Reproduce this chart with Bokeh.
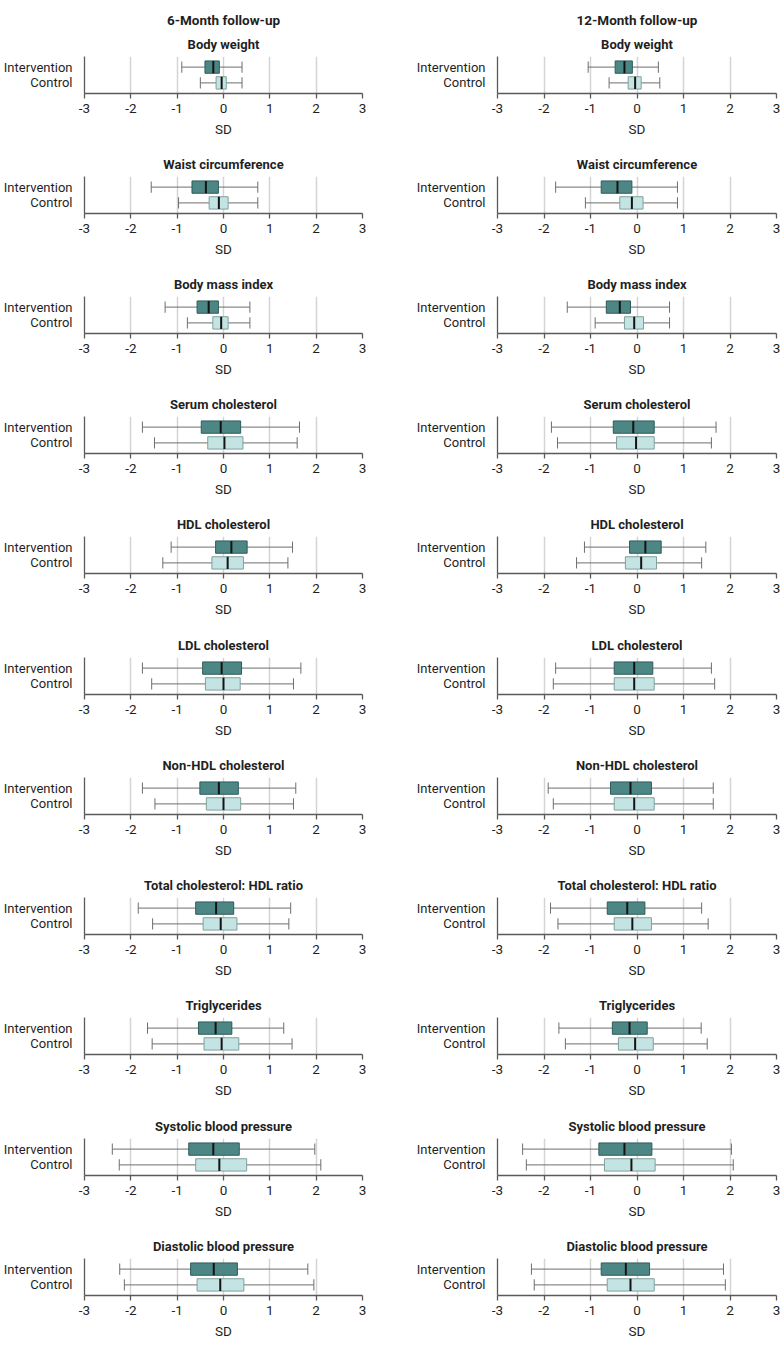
from bokeh.plotting import figure
from bokeh.models import Range1d, FactorRange, FixedTicker, Title, ColumnDataSource
from bokeh.layouts import row, column
from bokeh.embed import file_html
from bokeh.resources import INLINE

# ---------------- data ----------------
headers = ["6-Month follow-up", "12-Month follow-up"]
groups = ["Intervention", "Control"]
measures = ["Body weight", "Waist circumference", "Body mass index", "Serum cholesterol",
            "HDL cholesterol", "LDL cholesterol", "Non-HDL cholesterol",
            "Total cholesterol: HDL ratio", "Triglycerides", "Systolic blood pressure",
            "Diastolic blood pressure"]
tick_values = [-3, -2, -1, 0, 1, 2, 3]
tick_labels = ["-3", "-2", "-1", "0", "1", "2", "3"]

# 6-month, intervention
m6_int_low = [-0.90, -1.56, -1.26, -1.75, -1.13, -1.75, -1.75, -1.84, -1.64, -2.40, -2.24]
m6_int_q1 = [-0.40, -0.68, -0.57, -0.48, -0.17, -0.45, -0.51, -0.60, -0.54, -0.75, -0.71]
m6_int_med = [-0.22, -0.38, -0.32, -0.06, 0.17, -0.04, -0.10, -0.16, -0.17, -0.22, -0.21]
m6_int_q3 = [-0.09, -0.11, -0.11, 0.37, 0.51, 0.39, 0.32, 0.22, 0.18, 0.34, 0.30]
m6_int_high = [0.40, 0.74, 0.57, 1.64, 1.49, 1.67, 1.56, 1.45, 1.30, 1.97, 1.82]
# 6-month, control
m6_ctl_low = [-0.50, -0.97, -0.78, -1.49, -1.31, -1.55, -1.48, -1.53, -1.54, -2.25, -2.14]
m6_ctl_q1 = [-0.16, -0.31, -0.23, -0.34, -0.25, -0.39, -0.37, -0.44, -0.42, -0.60, -0.57]
m6_ctl_med = [-0.04, -0.10, -0.05, 0.02, 0.09, 0.00, 0.00, -0.06, -0.04, -0.09, -0.07]
m6_ctl_q3 = [0.06, 0.10, 0.10, 0.42, 0.43, 0.36, 0.37, 0.29, 0.33, 0.50, 0.44]
m6_ctl_high = [0.40, 0.74, 0.57, 1.59, 1.39, 1.51, 1.51, 1.41, 1.48, 2.10, 1.95]
# 12-month, intervention
m12_int_low = [-1.05, -1.75, -1.50, -1.84, -1.13, -1.75, -1.91, -1.86, -1.68, -2.46, -2.27]
m12_int_q1 = [-0.47, -0.77, -0.66, -0.51, -0.16, -0.49, -0.57, -0.64, -0.53, -0.82, -0.77]
m12_int_med = [-0.27, -0.42, -0.37, -0.08, 0.18, -0.06, -0.14, -0.21, -0.16, -0.27, -0.24]
m12_int_q3 = [-0.10, -0.11, -0.14, 0.37, 0.52, 0.34, 0.31, 0.17, 0.22, 0.32, 0.27]
m12_int_high = [0.46, 0.87, 0.70, 1.70, 1.48, 1.60, 1.64, 1.39, 1.38, 2.03, 1.86]
# 12-month, control
m12_ctl_low = [-0.60, -1.11, -0.90, -1.71, -1.30, -1.80, -1.80, -1.70, -1.54, -2.38, -2.21]
m12_ctl_q1 = [-0.19, -0.37, -0.27, -0.44, -0.25, -0.49, -0.49, -0.49, -0.40, -0.70, -0.64]
m12_ctl_med = [-0.04, -0.11, -0.06, -0.02, 0.09, -0.06, -0.06, -0.10, -0.04, -0.12, -0.14]
m12_ctl_q3 = [0.09, 0.13, 0.14, 0.37, 0.42, 0.37, 0.37, 0.31, 0.35, 0.39, 0.37]
m12_ctl_high = [0.49, 0.87, 0.70, 1.60, 1.39, 1.67, 1.64, 1.53, 1.51, 2.07, 1.90]

timepoints = [
    dict(low=(m6_int_low, m6_ctl_low), q1=(m6_int_q1, m6_ctl_q1), med=(m6_int_med, m6_ctl_med),
         q3=(m6_int_q3, m6_ctl_q3), high=(m6_int_high, m6_ctl_high)),
    dict(low=(m12_int_low, m12_ctl_low), q1=(m12_int_q1, m12_ctl_q1), med=(m12_int_med, m12_ctl_med),
         q3=(m12_int_q3, m12_ctl_q3), high=(m12_int_high, m12_ctl_high)),
]

# ---------------- style ----------------
FONT = "Roboto"
TXT = "#1f1f1f"
AXIS = "#5a5a5a"
GRID = "#d4d4d4"
WHISK = "#6e6e6e"
FILLS = ["#4d8785", "#c4e4e3"]
LINES = ["#2d5c5a", "#7fa09e"]
MED = "#141414"

FH = 37            # frame height
PITCH = 120.2
FIRST_FRAME_TOP = 55.7
TOP = 36           # border above frame (title area) for rows > 0
LAST_BOTTOM = 47
frame_tops = [round(FIRST_FRAME_TOP + PITCH * k) for k in range(len(measures))]
fig_tops = [0] + [ft - TOP for ft in frame_tops[1:]]

col_geom = [dict(width=390, left=83, right=28), dict(width=390, left=107, right=4)]


def style_title(t, size, standoff):
    t.align = "center"
    t.text_font = FONT
    t.text_font_size = size
    t.text_font_style = "bold"
    t.text_color = TXT
    t.standoff = standoff


def make_panel(c, k):
    tp = timepoints[c]
    src = ColumnDataSource(dict(
        group=groups,
        low=[tp["low"][0][k], tp["low"][1][k]],
        q1=[tp["q1"][0][k], tp["q1"][1][k]],
        med=[tp["med"][0][k], tp["med"][1][k]],
        q3=[tp["q3"][0][k], tp["q3"][1][k]],
        high=[tp["high"][0][k], tp["high"][1][k]],
        fill=FILLS, line=LINES,
    ))
    top_border = frame_tops[k] - fig_tops[k]
    if k < len(measures) - 1:
        height = fig_tops[k + 1] - fig_tops[k]
    else:
        height = top_border + FH + LAST_BOTTOM
    g = col_geom[c]
    p = figure(width=g["width"], height=height,
               x_range=Range1d(tick_values[0], tick_values[-1]),
               y_range=FactorRange(factors=groups[::-1], range_padding=0.17,
                                   range_padding_units="absolute"),
               output_backend="svg", toolbar_location=None,
               min_border_left=g["left"], min_border_right=g["right"],
               min_border_top=top_border, min_border_bottom=height - top_border - FH)
    p.outline_line_color = None
    p.background_fill_color = "white"
    p.border_fill_color = "white"

    if k == 0:
        # p.title is outermost; the extra Title sits next to the frame
        p.title.text = headers[c]
        style_title(p.title, "13.5px", 6)
        t = Title(text=measures[k])
        style_title(t, "13px", 9)
        p.add_layout(t, "above")
    else:
        p.title.text = measures[k]
        style_title(p.title, "13px", 9)

    # grid
    p.xgrid.ticker = FixedTicker(ticks=tick_values)
    p.xgrid.grid_line_color = GRID
    p.xgrid.grid_line_width = 1.5
    p.ygrid.visible = False

    # x axis
    xa = p.xaxis[0]
    xa.ticker = FixedTicker(ticks=tick_values)
    xa.major_label_overrides = {v: l for v, l in zip(tick_values, tick_labels)}
    xa.axis_line_color = AXIS
    xa.axis_line_width = 1.3
    xa.major_tick_line_color = AXIS
    xa.major_tick_line_width = 1.3
    xa.major_tick_out = 5
    xa.major_tick_in = 0
    xa.minor_tick_line_color = None
    xa.major_label_standoff = 5
    xa.major_label_text_font = FONT
    xa.major_label_text_font_size = "13.5px"
    xa.major_label_text_color = TXT
    xa.axis_label = "SD"
    xa.axis_label_standoff = 5
    xa.axis_label_text_font = FONT
    xa.axis_label_text_font_size = "13.5px"
    xa.axis_label_text_font_style = "normal"
    xa.axis_label_text_color = TXT

    # y axis
    ya = p.yaxis[0]
    ya.axis_line_color = AXIS
    ya.axis_line_width = 1.3
    ya.major_tick_line_color = None
    ya.minor_tick_line_color = None
    ya.major_label_standoff = 6
    ya.major_label_text_font = FONT
    ya.major_label_text_font_size = "13px"
    ya.major_label_text_color = TXT

    # whiskers
    p.segment(x0="low", y0="group", x1="high", y1="group", source=src,
              line_color=WHISK, line_width=1)
    p.rect(x="low", y="group", width=1, width_units="screen", height=0.7,
           source=src, fill_color=WHISK, line_color=None)
    p.rect(x="high", y="group", width=1, width_units="screen", height=0.7,
           source=src, fill_color=WHISK, line_color=None)
    # boxes
    p.hbar(y="group", left="q1", right="q3", height=0.78, source=src,
           fill_color="fill", line_color="line", line_width=1)
    # medians
    p.rect(x="med", y="group", width=2, width_units="screen", height=0.78,
           source=src, fill_color=MED, line_color=None)
    return p


cols = []
for c in range(2):
    figs = [make_panel(c, k) for k in range(len(measures))]
    cols.append(column(*figs, spacing=0))
layout = row(*cols, spacing=0)

open("out.html", "w").write(file_html(layout, INLINE))
